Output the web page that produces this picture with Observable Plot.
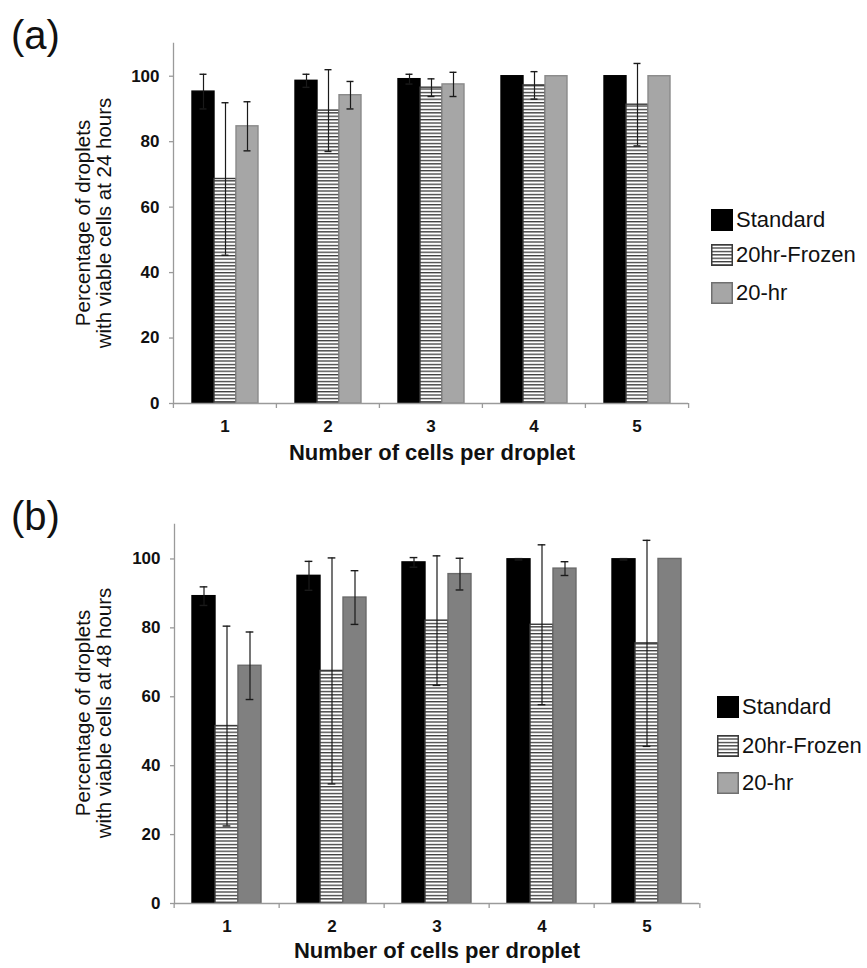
<!DOCTYPE html>
<html>
<head>
<meta charset="utf-8">
<script src="https://cdn.jsdelivr.net/npm/d3@7"></script>
<script src="https://cdn.jsdelivr.net/npm/@observablehq/plot@0.6"></script>
<style>
  body { margin: 0; background: #fff; }
  #root { position: relative; width: 867px; height: 968px; overflow: hidden; background: #fff;
          font-family: "Liberation Sans", Arial, sans-serif; color: #111; }
  .tag { position: absolute; font-size: 40px; line-height: 1; white-space: nowrap; }
  .ytitle { position: absolute; font-size: 20.5px; line-height: 21px; text-align: center; white-space: nowrap;
            transform: translate(-50%, -50%) rotate(-90deg); }
  .xtitle { position: absolute; font-size: 22px; font-weight: bold; white-space: nowrap;
            transform: translate(-50%, -50%); }
  .plot { position: absolute; left: 0; }
  .plot text { font-size: 17px; font-weight: bold; fill: #111; }
  .legend { position: absolute; }
  .legend .item { position: absolute; left: 0; display: flex; align-items: center; white-space: nowrap; font-size: 22px; }
  .legend svg { display: block; margin-right: 3px; }
</style>
</head>
<body>
<svg width="0" height="0" style="position:absolute">
  <defs>
    <pattern id="hatch" patternUnits="userSpaceOnUse" width="6" height="3.4">
      <rect x="0" y="0" width="6" height="3.4" fill="#ffffff"></rect>
      <rect x="0" y="0" width="6" height="1.3" fill="#3a3a3a"></rect>
    </pattern>
  </defs>
</svg>
<div id="root"></div>
<script>
// ---------- data ----------
const cells = ["1", "2", "3", "4", "5"];
const seriesNames = ["Standard", "20hr-Frozen", "20-hr"];
const yTicks = [0, 20, 40, 60, 80, 100];

// (a) 24 hours
const standard24 = [95.3, 98.6, 99.1, 100, 100];
const standard24Err = [5.3, 2.0, 1.5, 0, 0];
const frozen24 = [68.6, 89.5, 96.5, 97.2, 91.3];
const frozen24Err = [23.3, 12.5, 2.7, 4.2, 12.6];
const hr20_24 = [84.7, 94.2, 97.5, 100, 100];
const hr20_24Err = [7.5, 4.2, 3.7, 0, 0];

// (b) 48 hours
const standard48 = [89.2, 95.1, 99.0, 99.9, 99.9];
const standard48Err = [2.7, 4.2, 1.4, 0.2, 0.2];
const frozen48 = [51.5, 67.5, 82.1, 80.9, 75.5];
const frozen48Err = [29.0, 32.8, 18.8, 23.2, 29.9];
const hr20_48 = [69.0, 88.8, 95.6, 97.2, 100];
const hr20_48Err = [9.8, 7.8, 4.6, 2.0, 0];

function buildRows(valsBySeries, errsBySeries) {
  const rows = [];
  seriesNames.forEach((s, si) => {
    cells.forEach((c, ci) => {
      rows.push({cell: c, series: s, value: valsBySeries[si][ci], err: errsBySeries[si][ci]});
    });
  });
  return rows;
}
const rowsA = buildRows([standard24, frozen24, hr20_24], [standard24Err, frozen24Err, hr20_24Err]);
const rowsB = buildRows([standard48, frozen48, hr20_48], [standard48Err, frozen48Err, hr20_48Err]);

const FONT = "Liberation Sans, Arial, sans-serif";
const AXIS_GRAY = "#9a9a9a";

function drawPanel(o) {
  const W = 867;
  const step = (W - o.marginLeft - o.marginRight) / cells.length;
  const po = (step / o.barW - 3) / 2;
  const capInset = (o.barW - 8) / 2;
  const fills = {"Standard": "#000000", "20hr-Frozen": "url(#hatch)", "20-hr": o.grayFill};
  const strokes = {"Standard": "#000000", "20hr-Frozen": "#3a3a3a", "20-hr": o.grayStroke};
  const errRows = o.rows.filter(d => d.err > 0);
  const barMarks = seriesNames.map(s =>
    Plot.barY(o.rows.filter(d => d.series === s), {
      fx: "cell", x: "series", y: "value",
      fill: fills[s], stroke: strokes[s], strokeWidth: 1.4
    })
  );
  return Plot.plot({
    width: W, height: o.height,
    marginLeft: o.marginLeft, marginRight: o.marginRight,
    marginTop: o.marginTop, marginBottom: o.marginBottom,
    style: {background: "transparent", fontFamily: FONT, overflow: "visible", color: "#111",
            fontSize: "17px", fontWeight: "bold"},
    fx: {domain: cells, padding: 0, axis: null, label: null},
    x: {domain: seriesNames, paddingInner: 0, paddingOuter: po, axis: null},
    y: {domain: [0, 110], axis: null},
    marks: [
      ...barMarks,
      Plot.ruleX(errRows, {fx: "cell", x: "series", y1: d => d.value - d.err, y2: d => d.value + d.err,
                           stroke: "#1a1a1a", strokeWidth: 1.2}),
      Plot.tickY(errRows, {fx: "cell", x: "series", y: d => d.value + d.err,
                           insetLeft: capInset, insetRight: capInset, stroke: "#1a1a1a", strokeWidth: 1.4}),
      Plot.tickY(errRows, {fx: "cell", x: "series", y: d => d.value - d.err,
                           insetLeft: capInset, insetRight: capInset, stroke: "#1a1a1a", strokeWidth: 1.4}),
      Plot.ruleY([0], {stroke: AXIS_GRAY, strokeWidth: 1.3}),
      Plot.frame({anchor: "left", facetAnchor: "left", stroke: AXIS_GRAY, strokeWidth: 1.3}),
      Plot.axisY({ticks: yTicks, tickSize: 4, tickPadding: 10, stroke: AXIS_GRAY, strokeWidth: 1.3,
                  fill: "#111", fontSize: 17, fontWeight: "bold", label: null}),
      Plot.axisFx({anchor: "bottom", tickSize: 5, tickFormat: () => "", dx: -step / 2,
                   stroke: AXIS_GRAY, strokeWidth: 1.3, label: null}),
      Plot.axisFx({anchor: "bottom", ticks: [cells[cells.length - 1]], tickSize: 5, tickFormat: () => "", dx: step / 2,
                   stroke: AXIS_GRAY, strokeWidth: 1.3, label: null}),
      Plot.axisFx({anchor: "bottom", tickSize: 0, tickPadding: 16, fontSize: 17, fontWeight: "bold",
                   fill: "#111", label: null})
    ]
  });
}

const root = document.getElementById("root");

function addDiv(cls, text, styles) {
  const d = document.createElement("div");
  d.className = cls;
  if (text.includes("\n")) d.innerHTML = text.split("\n").join("<br>");
  else d.textContent = text;
  Object.assign(d.style, styles);
  root.appendChild(d);
  return d;
}

function addLegend(left, tops, grayLegend) {
  const lg = document.createElement("div");
  lg.className = "legend";
  lg.style.left = left + "px";
  lg.style.top = "0px";
  const fills = {"Standard": "#000000", "20hr-Frozen": "url(#hatch)", "20-hr": grayLegend};
  const strokes = {"Standard": "#000000", "20hr-Frozen": "#3a3a3a", "20-hr": "#707070"};
  seriesNames.forEach((s, i) => {
    const item = document.createElement("div");
    item.className = "item";
    item.style.top = tops[i] + "px";
    item.style.height = "22px";
    item.innerHTML = `<svg width="22" height="22"><rect x="0.75" y="0.75" width="20.5" height="20.5" fill="${fills[s]}" stroke="${strokes[s]}" stroke-width="1.5"></rect></svg><span>${s}</span>`;
    lg.appendChild(item);
  });
  root.appendChild(lg);
}

// ---------- panel (a) ----------
const plotA = drawPanel({rows: rowsA, height: 470, marginTop: 43, marginBottom: 67,
                         marginLeft: 172, marginRight: 179, barW: 23,
                         grayFill: "#a6a6a6", grayStroke: "#8a8a8a"});
plotA.classList.add("plot");
plotA.style.top = "0px";
root.appendChild(plotA);
addDiv("tag", "(a)", {left: "11px", top: "15px"});
addDiv("ytitle", "Percentage of droplets\nwith viable cells at 24 hours", {left: "93px", top: "223px"});
addDiv("xtitle", "Number of cells per droplet", {left: "432px", top: "453px"});
addLegend(711, [209, 244, 282], "#a6a6a6");

// ---------- panel (b) ----------
const plotB = drawPanel({rows: rowsB, height: 488, marginTop: 44, marginBottom: 65,
                         marginLeft: 172, marginRight: 166.5, barW: 23.3,
                         grayFill: "#808080", grayStroke: "#6a6a6a"});
plotB.classList.add("plot");
plotB.style.top = "480px";
root.appendChild(plotB);
addDiv("tag", "(b)", {left: "11px", top: "496px"});
addDiv("ytitle", "Percentage of droplets\nwith viable cells at 48 hours", {left: "93px", top: "713px"});
addDiv("xtitle", "Number of cells per droplet", {left: "437px", top: "951px"});
addLegend(717, [696, 735, 772], "#a6a6a6");
</script>
</body>
</html>
